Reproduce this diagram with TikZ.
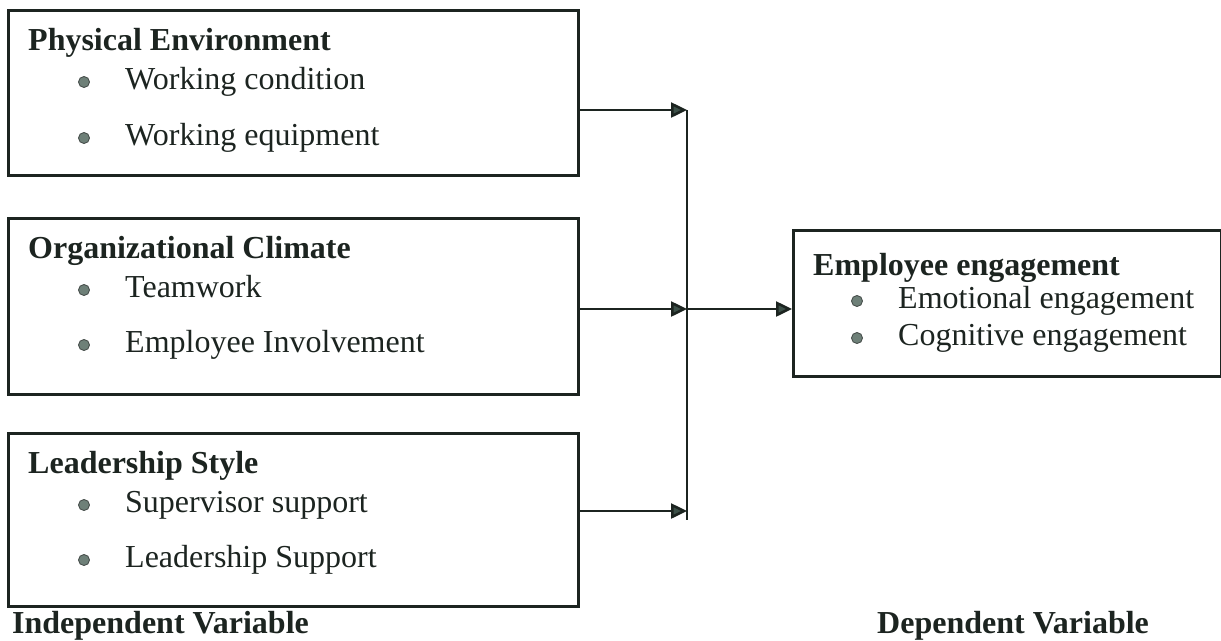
\documentclass[tikz,border=0pt]{standalone}
\usepackage{fontspec}
\setmainfont{Liberation Serif}
\usetikzlibrary{arrows.meta}
\definecolor{ink}{RGB}{28,36,32}
\definecolor{bulletfill}{RGB}{110,128,120}
\definecolor{tipfill}{RGB}{60,80,72}
\tikzset{
  box/.style={draw=ink, line width=2.5pt, inner sep=0pt, anchor=north west},
  head/.style={anchor=base west, inner sep=0pt, text=ink, font=\fontsize{32}{38}\selectfont\bfseries},
  item/.style={anchor=base west, inner sep=0pt, text=ink, font=\fontsize{32}{38}\selectfont},
  bulletdot/.style={circle, draw=ink!80, line width=0.9pt, fill=bulletfill, minimum size=11pt, inner sep=0pt},
  conn/.style={draw=ink, line width=2.5pt},
  arr/.style={conn, -{Triangle[length=16pt,width=15pt,fill=tipfill]}}
}
\begin{document}
\begin{tikzpicture}[x=1pt,y=-1pt]
\useasboundingbox (0,0) rectangle (1221,640);
% boxes
\node[box, minimum width=570pt, minimum height=165pt] (b1) at (7,9) {};
\node[box, minimum width=570pt, minimum height=176pt] (b2) at (7,217) {};
\node[box, minimum width=570pt, minimum height=173pt] (b3) at (7,432) {};
\node[box, minimum width=428pt, minimum height=146pt] (b4) at (792,229) {};
% box 1 text
\node[head] (h1) at (28,50) {Physical Environment};
\node[bulletdot] (d11) at (84,82) {};
\node[item] (t11) at (125,89) {Working condition};
\node[bulletdot] (d12) at (84,138) {};
\node[item] (t12) at (125,145) {Working equipment};
% box 2 text
\node[head] (h2) at (28,258) {Organizational Climate};
\node[bulletdot] (d21) at (84,290) {};
\node[item] (t21) at (125,297) {Teamwork};
\node[bulletdot] (d22) at (84,345) {};
\node[item] (t22) at (125,352) {Employee Involvement};
% box 3 text
\node[head] (h3) at (28,473) {Leadership Style};
\node[bulletdot] (d31) at (84,505) {};
\node[item] (t31) at (125,512) {Supervisor support};
\node[bulletdot] (d32) at (84,560) {};
\node[item] (t32) at (125,567) {Leadership Support};
% box 4 text
\node[head] (h4) at (813,275) {Employee engagement};
\node[bulletdot] (d41) at (857,301) {};
\node[item] (t41) at (898,308) {Emotional engagement};
\node[bulletdot] (d42) at (857,338) {};
\node[item] (t42) at (898,345) {Cognitive engagement};
% bottom labels
\node[head] (lind) at (12,633) {Independent Variable};
\node[head] (ldep) at (877,633) {Dependent Variable};
% connectors
\coordinate (j1) at (687,110);
\coordinate (j2) at (687,309);
\coordinate (j3) at (687,511);
\coordinate (jb) at (687,520);
\draw[conn] (j1) -- (jb);
\draw[arr] (b1.east |- j1) -- (j1);
\draw[arr] (b2.east |- j2) -- (j2);
\draw[arr] (b3.east |- j3) -- (j3);
\draw[arr] (j2) -- (b4.west |- j2);
\end{tikzpicture}
\end{document}
